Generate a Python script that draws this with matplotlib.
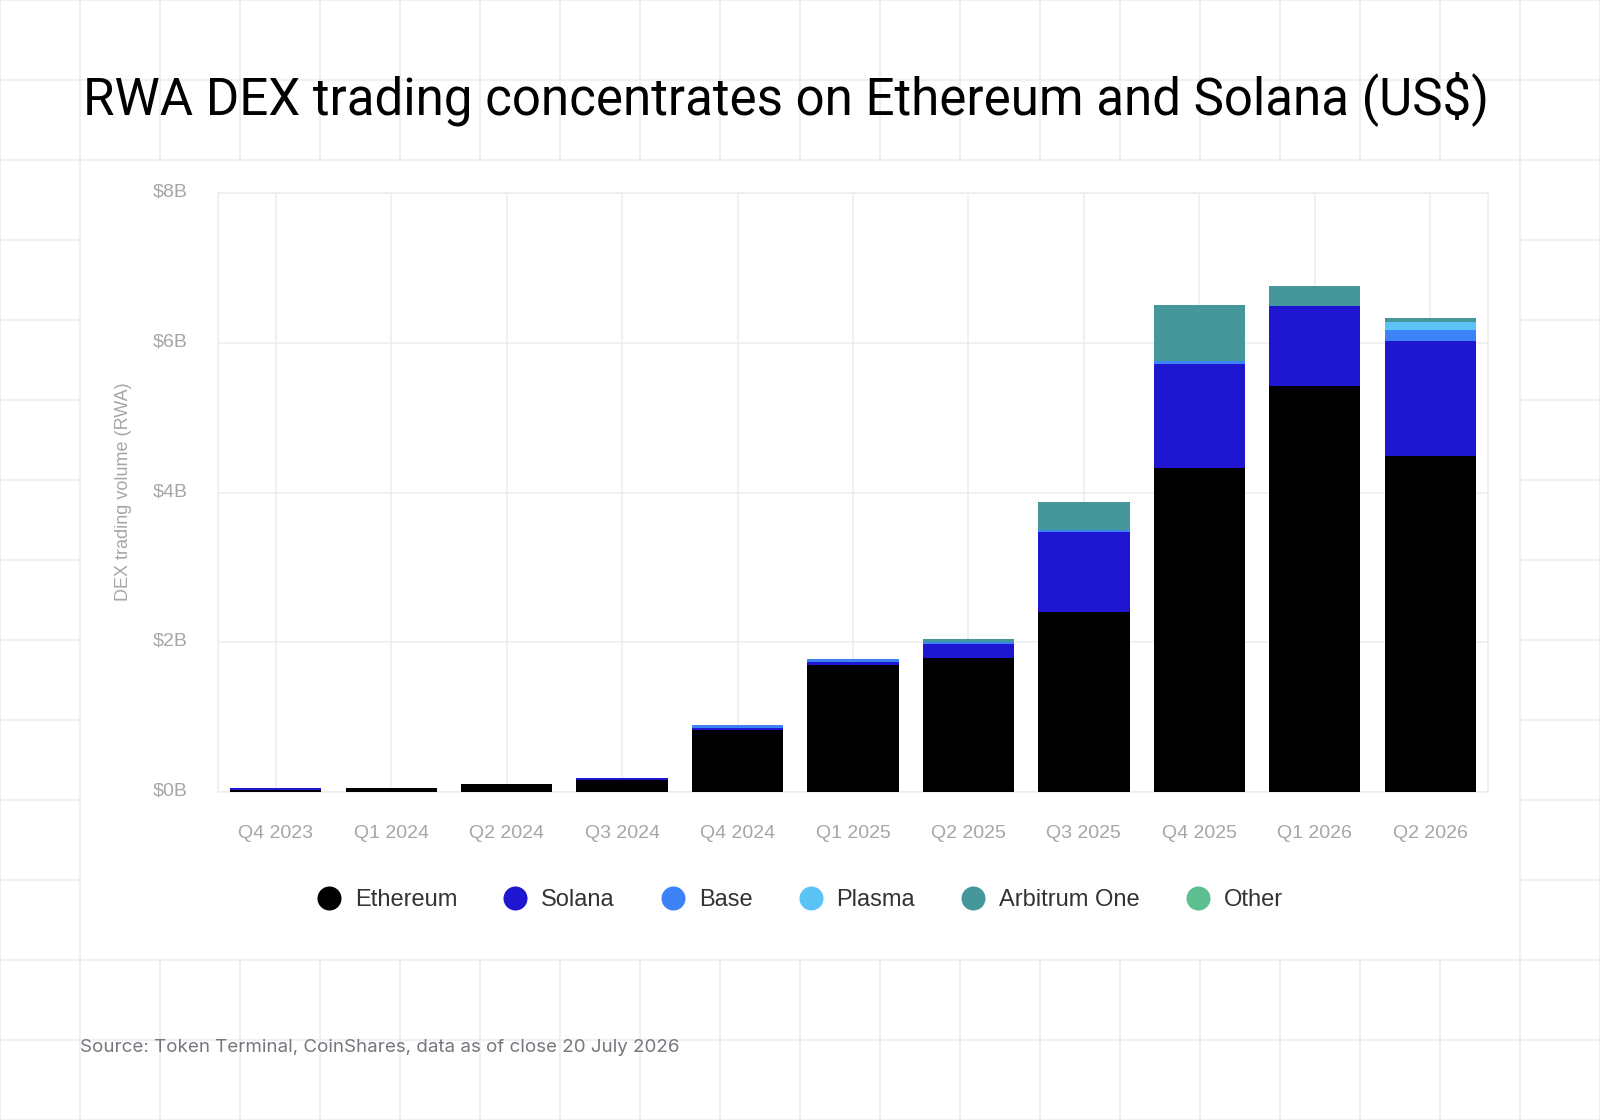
import matplotlib
matplotlib.use("Agg")
import matplotlib.pyplot as plt
import matplotlib.transforms as mtransforms
from matplotlib.lines import Line2D
from matplotlib.patches import Rectangle
import numpy as np

# values in US$ billions
quarters = ["Q4 2023", "Q1 2024", "Q2 2024", "Q3 2024", "Q4 2024", "Q1 2025",
            "Q2 2025", "Q3 2025", "Q4 2025", "Q1 2026", "Q2 2026"]
ethereum = [0.03, 0.06, 0.11, 0.16, 0.83, 1.69, 1.79, 2.41, 4.33, 5.42, 4.49]
solana = [0.03, 0.00, 0.00, 0.03, 0.03, 0.05, 0.19, 1.06, 1.39, 1.07, 1.54]
base = [0.00, 0.00, 0.00, 0.00, 0.03, 0.03, 0.03, 0.03, 0.03, 0.00, 0.14]
plasma = [0.00, 0.00, 0.00, 0.00, 0.00, 0.00, 0.00, 0.00, 0.00, 0.00, 0.11]
arbitrum = [0.00, 0.00, 0.00, 0.00, 0.00, 0.00, 0.03, 0.375, 0.75, 0.27, 0.05]
other = [0.0] * 11

series_names = ["Ethereum", "Solana", "Base", "Plasma", "Arbitrum One", "Other"]
series_colours = ["#000000", "#1E16D0", "#3D82F6", "#5BC3F5", "#44979A", "#5BBF8F"]
y_ticks = [0, 2, 4, 6, 8]
y_labels = ["$0B", "$2B", "$4B", "$6B", "$8B"]

W, H = 1600, 1120
GRID = "#F0F0F0"

fig = plt.figure(figsize=(W / 100, H / 100), dpi=100, facecolor="white")

# page background: light square grid with a white panel on top
bg = fig.add_axes([0, 0, 1, 1], zorder=-10)
bg.set_xlim(0, W)
bg.set_ylim(H, 0)
bg.axis("off")
for x in range(0, W + 1, 80):
    bg.axvline(x, color=GRID, lw=1.5)
for y in range(0, H + 1, 80):
    bg.axhline(y, color=GRID, lw=1.5)
bg.add_patch(Rectangle((80, 160), 1440, 800, facecolor="white", edgecolor=GRID, lw=1.5, zorder=5))

# chart axes, placed in pixel terms
left, right, top, bottom = 218, 1488, 193, 792
ax = fig.add_axes([left / W, 1 - bottom / H, (right - left) / W, (bottom - top) / H])
ax.set_facecolor("none")

x = np.arange(len(quarters))
stack = [ethereum, solana, base, plasma, arbitrum, other]
running = np.zeros(len(quarters))
for vals, name, col in zip(stack, series_names, series_colours):
    ax.bar(x, vals, bottom=running, width=0.79, color=col, label=name, zorder=3, linewidth=0)
    running += np.array(vals)

ax.set_xlim(-0.5, len(quarters) - 0.5)
ax.set_ylim(0, 8)
ax.set_xticks(x)
ax.set_xticklabels(quarters)
ax.set_yticks(y_ticks)
ax.set_yticklabels(y_labels)
ax.tick_params(length=0, labelsize=14, labelcolor="#A6A6A6")
ax.tick_params(axis="x", pad=24)
ax.tick_params(axis="y", pad=22)
for lab in ax.get_xticklabels() + ax.get_yticklabels():
    lab.set_fontfamily("Liberation Sans")
# y labels sit a few pixels above their gridlines in the reference
lift = mtransforms.ScaledTranslation(0, 3 / 100, fig.dpi_scale_trans)
for lab in ax.get_yticklabels():
    lab.set_transform(lab.get_transform() + lift)
ax.grid(True, color="#EDEDED", lw=1.1, zorder=0)
for sp in ax.spines.values():
    sp.set_color("#EDEDED")
    sp.set_linewidth(1.1)

fig.text(124 / W, 1 - 492 / H, "DEX trading volume (RWA)", rotation=90, ha="center", va="center",
         fontsize=13, color="#A6A6A6", family="Liberation Sans")

# legend
handles = [Line2D([], [], marker="o", ls="", markersize=17.3, markerfacecolor=c, markeredgewidth=0)
           for c in series_colours]
fig.legend(handles, series_names, loc="center", bbox_to_anchor=(0.5, 1 - 900 / H), ncol=6,
           frameon=False, handlelength=1.0, handletextpad=0.6, columnspacing=1.96,
           prop={"family": "Liberation Sans", "size": 17}, labelcolor="#333333")

# title, sized to span the same width as the reference
title = fig.text(83 / W, 1 - 114 / H, "RWA DEX trading concentrates on Ethereum and Solana (US$)",
                 ha="left", va="baseline", fontsize=34, color="#000000", family="Roboto")
renderer = fig.canvas.get_renderer()
tw = title.get_window_extent(renderer).width
title.set_fontsize(34 * 1407 / tw)

fig.text(80 / W, 1 - 1047 / H, "Source: Token Terminal, CoinShares, data as of close 20 July 2026",
         ha="left", va="center", fontsize=13.5, color="#77767F", family="Inter")

fig.savefig("out.png", dpi=100, facecolor="white")
